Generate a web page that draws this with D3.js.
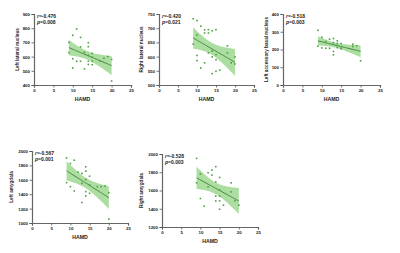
<!DOCTYPE html>
<html><head><meta charset="utf-8">
<script src="https://cdn.jsdelivr.net/npm/d3@7"></script>
<style>body{margin:0;background:#fff}svg{display:block}</style>
</head><body>
<svg id="c" width="400" height="253"></svg>
<script>
// ---- data ----
const xTicks = [0, 5, 10, 15, 20, 25];

const titles = ["Left lateral nucleus", "Right lateral nucleus", "Left accessory basal nucleus", "Left amygdala", "Right amygdala"];
const rLabels = ["r=-0.476", "r=-0.420", "r=-0.518", "r=-0.567", "r=-0.528"];
const pLabels = ["p=0.008", "p=0.021", "p=0.003", "p=0.001", "p=0.003"];

const yTicks1 = [400, 500, 600, 700, 800, 900];
const yTicks2 = [500, 550, 600, 650, 700, 750];
const yTicks3 = [0, 100, 200, 300, 400];
const yTicks4 = [1000, 1200, 1400, 1600, 1800, 2000];
const yTicks5 = [1200, 1400, 1600, 1800, 2000];

const hamd1 = [9, 9, 10, 10, 10, 11, 11, 12, 12, 12, 13, 13, 14, 14, 14, 14, 14, 15, 15, 15, 15, 17, 18, 19, 20, 20];
const val1  = [700, 628, 750, 585, 520, 795, 567, 735, 668, 567, 513, 630, 698, 670, 609, 567, 545, 623, 595, 567, 543, 569, 588, 600, 580, 428];

const hamd2 = [9, 9, 10, 10, 10, 10, 11, 11, 12, 12, 12, 13, 13, 13, 14, 14, 14, 14, 15, 15, 15, 15, 16, 18, 18, 19, 20, 20];
const val2  = [733, 644, 727, 676, 604, 586, 707, 560, 694, 683, 578, 695, 683, 613, 691, 619, 599, 540, 695, 607, 589, 548, 552, 638, 613, 578, 599, 574];

const hamd3 = [9, 9, 10, 10, 11, 11, 12, 12, 13, 13, 13, 13, 14, 14, 14, 15, 15, 15, 18, 18, 19, 20];
const val3  = [308, 219, 269, 209, 245, 207, 258, 207, 262, 239, 189, 170, 249, 234, 211, 234, 215, 204, 230, 217, 221, 136];

const hamd4 = [9, 9, 10, 10, 11, 11, 12, 13, 13, 13, 14, 14, 14, 14, 14, 15, 15, 15, 17, 18, 19, 20, 20];
const val4  = [1904, 1560, 1826, 1505, 1872, 1445, 1706, 1688, 1550, 1284, 1780, 1720, 1605, 1436, 1376, 1650, 1527, 1413, 1505, 1505, 1514, 1422, 1055];

const hamd5 = [9, 9, 10, 10, 11, 12, 12, 13, 13, 14, 14, 14, 14, 15, 15, 15, 15, 15, 16, 18, 18, 19, 20];
const val5  = [1952, 1684, 1780, 1512, 1428, 1795, 1640, 1824, 1769, 1861, 1695, 1538, 1486, 1743, 1604, 1538, 1486, 1395, 1439, 1684, 1585, 1486, 1439];

// ---- layout ----
const panels = [
  {x: hamd1, y: val1, ticks: yTicks1, box: [34, 131, 14, 85], off: 15},
  {x: hamd2, y: val2, ticks: yTicks2, box: [159, 254, 14, 85], off: 16},
  {x: hamd3, y: val3, ticks: yTicks3, box: [283, 380, 14, 85], off: 15},
  {x: hamd4, y: val4, ticks: yTicks4, box: [32, 128, 151, 223], off: 19},
  {x: hamd5, y: val5, ticks: yTicks5, box: [162, 258, 154, 227], off: 19}
];

const svg = d3.select("#c");
const green = "#4f9e45", line = "#3a7d35", band = "#a3da97";
const font = "Liberation Sans, Arial, sans-serif";

function fit(xs, ys) {
  const n = xs.length, mx = d3.mean(xs), my = d3.mean(ys);
  let sxx = 0, sxy = 0;
  xs.forEach((x, i) => { sxx += (x - mx) ** 2; sxy += (x - mx) * (ys[i] - my); });
  const b = sxy / sxx, a = my - b * mx;
  let sse = 0;
  xs.forEach((x, i) => { sse += (ys[i] - (a + b * x)) ** 2; });
  const s = Math.sqrt(sse / (n - 2));
  const t = 2.07;
  return x => {
    const yh = a + b * x;
    const se = s * Math.sqrt(1 / n + (x - mx) ** 2 / sxx);
    return [yh, yh - t * se, yh + t * se];
  };
}

panels.forEach((p, i) => {
  const [x0, x1, yT, yB] = p.box;
  const xs = d3.scaleLinear().domain([0, 25]).range([x0, x1]);
  const ys = d3.scaleLinear().domain([p.ticks[0], p.ticks[p.ticks.length - 1]]).range([yB, yT]);
  const g = svg.append("g");

  const f = fit(p.x, p.y);
  const xmin = d3.min(p.x), xmax = d3.max(p.x);
  const grid = d3.range(0, 41).map(k => xmin + (xmax - xmin) * k / 40);
  const pts = grid.map(x => [x, ...f(x)]);

  g.append("path").datum(pts)
    .attr("d", d3.area().x(d => xs(d[0])).y0(d => ys(d[2])).y1(d => ys(d[3])))
    .attr("fill", band).attr("opacity", 0.9);
  g.append("path").datum(pts)
    .attr("d", d3.line().x(d => xs(d[0])).y(d => ys(d[1])))
    .attr("fill", "none").attr("stroke", line).attr("stroke-width", 0.9);

  g.selectAll("rect.pt").data(p.x.map((x, k) => [x, p.y[k]])).join("rect")
    .attr("x", d => xs(d[0]) - 0.8).attr("y", d => ys(d[1]) - 0.8)
    .attr("width", 1.6).attr("height", 1.6).attr("fill", green);

  const ax = g.append("g").attr("transform", `translate(0,${yB})`)
    .call(d3.axisBottom(xs).tickValues(xTicks).tickSize(2.5).tickPadding(1.5));
  const ay = g.append("g").attr("transform", `translate(${x0},0)`)
    .call(d3.axisLeft(ys).tickValues(p.ticks).tickSize(2.5).tickPadding(1.5).tickFormat(d3.format("d")));
  [ax, ay].forEach(a => {
    a.select(".domain").attr("stroke", "#666").attr("stroke-width", 1.2);
    a.selectAll(".tick line").attr("stroke", "#555").attr("stroke-width", 0.8);
    a.selectAll("text").attr("font-family", font).attr("font-size", 4.4).attr("fill", "#222").attr("font-weight", "bold");
  });

  g.append("text").attr("x", (x0 + x1) / 2).attr("y", yB + 16)
    .attr("text-anchor", "middle").attr("font-family", font).attr("font-size", 5.2)
    .attr("font-weight", "bold").attr("fill", "#222").text("HAMD");

  g.append("text").attr("transform", `translate(${x0 - p.off},${(yT + yB) / 2}) rotate(-90)`)
    .attr("text-anchor", "middle").attr("font-family", font).attr("font-size", 4.7)
    .attr("font-weight", "bold").attr("fill", "#222").text(titles[i]);

  const lab = g.append("text").attr("font-family", font).attr("font-size", 5)
    .attr("font-weight", "bold").attr("fill", "#222");
  lab.append("tspan").attr("x", x0 + 3).attr("y", yT + 3.5).attr("font-style", "italic").text(rLabels[i][0]);
  lab.append("tspan").text(rLabels[i].slice(1));
  const lab2 = g.append("text").attr("font-family", font).attr("font-size", 5)
    .attr("font-weight", "bold").attr("fill", "#222");
  lab2.append("tspan").attr("x", x0 + 3).attr("y", yT + 10).attr("font-style", "italic").text(pLabels[i][0]);
  lab2.append("tspan").text(pLabels[i].slice(1));
});
</script>
</body></html>
